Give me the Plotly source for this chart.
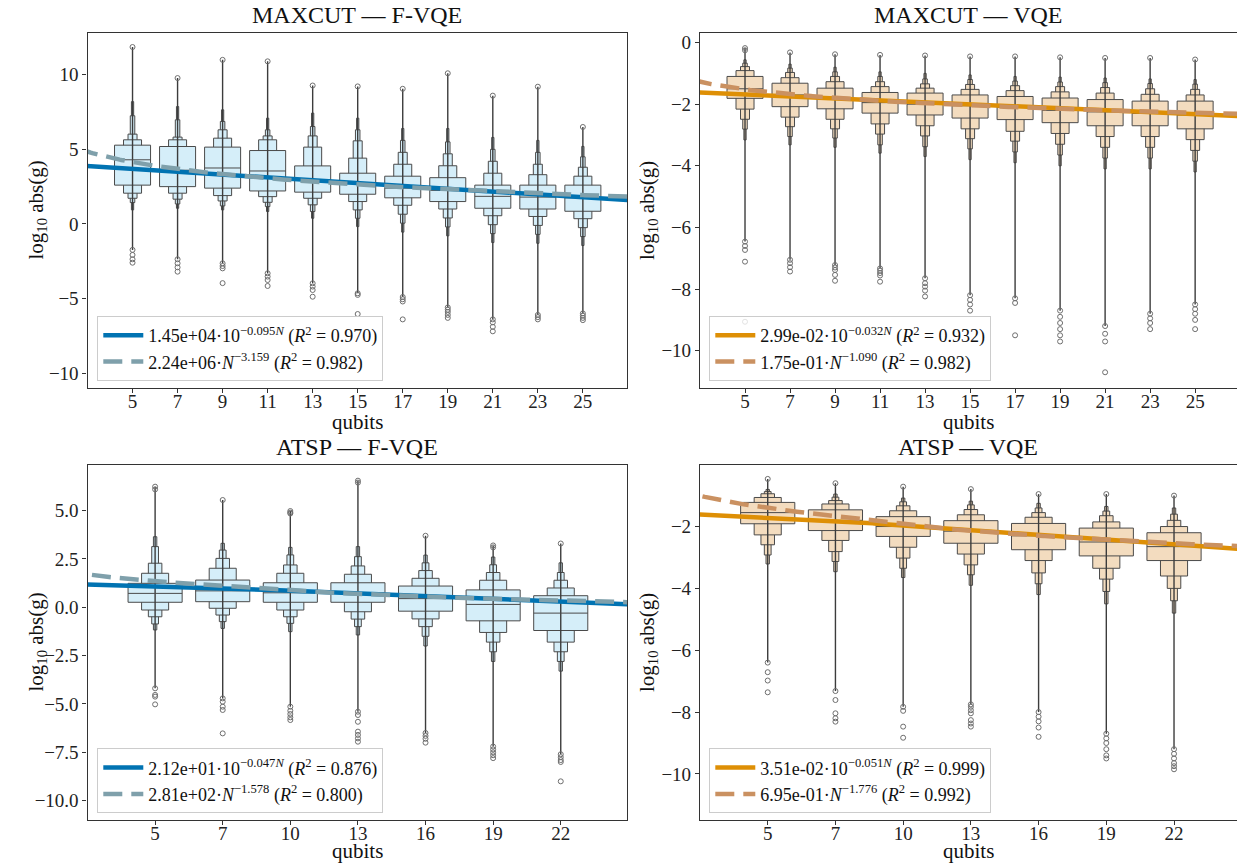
import numpy as np
import plotly.graph_objects as go

# ---------------- MAXCUT, F-VQE ----------------
mf_qubits = [5, 7, 9, 11, 13, 15, 17, 19, 21, 23, 25]
mf_median = [4.30, 3.60, 3.75, 3.55, 2.95, 2.70, 2.40, 2.25, 1.85, 1.80, 1.75]
# letter-value bounds per category, innermost (IQR) level first
mf_lower = [[2.60, 2.06, 1.72, 1.43, 0.94], [2.50, 2.06, 1.66, 1.34, 1.05],
            [2.40, 1.90, 1.54, 1.21, 0.94], [2.21, 1.83, 1.45, 1.16, 0.83],
            [2.13, 1.72, 1.28, 0.83, 0.38], [1.99, 1.50, 0.94, 0.38, -0.18],
            [1.75, 1.25, 0.65, 0.05, -0.55], [1.50, 1.00, 0.40, -0.20, -0.80],
            [1.05, 0.55, -0.05, -0.65, -1.25], [1.00, 0.50, -0.10, -0.70, -1.30],
            [0.85, 0.35, -0.25, -0.85, -1.45]]
mf_upper = [[5.28, 5.64, 6.02, 7.25, 8.20], [5.19, 5.64, 5.82, 6.98, 7.87],
            [5.15, 5.75, 6.31, 6.87, 7.65], [4.92, 5.64, 5.90, 6.31, 7.09],
            [3.89, 5.15, 5.90, 6.53, 7.43], [3.40, 4.41, 5.57, 6.31, 7.09],
            [3.20, 4.00, 4.80, 5.60, 6.40], [3.10, 3.90, 4.70, 5.50, 6.40],
            [2.60, 3.40, 4.20, 5.00, 5.80], [2.60, 3.30, 4.00, 4.80, 5.60],
            [2.60, 3.20, 3.80, 4.50, 5.20]]
mf_tail_lo = [-1.74, -2.37, -2.64, -3.31, -3.98, -4.65, -4.90, -5.60, -6.40, -6.10, -6.00]
mf_tail_hi = [11.86, 9.78, 11.00, 10.90, 9.28, 9.22, 9.06, 10.10, 8.60, 9.20, 6.50]
mf_outliers = [[11.86, -1.74, -2.08, -2.37, -2.60], [9.78, -2.37, -2.64, -2.91, -3.20],
               [11.00, -2.64, -2.82, -2.98, -3.97], [10.90, -3.31, -3.53, -3.76, -4.16],
               [9.28, -3.98, -4.20, -4.43, -4.88], [9.22, -4.65, -4.76, -6.04],
               [9.06, -4.90, -5.05, -5.20, -6.40], [10.10, -5.60, -5.75, -5.90, -6.10, -6.30],
               [8.60, -6.40, -6.60, -6.90, -7.20], [9.20, -6.10, -6.25, -6.40],
               [6.50, -6.00, -6.15, -6.30, -6.45]]
mf_exp_fit = (1.45e4, -0.095, 0.970)
mf_pow_fit = (2.24e6, -3.159, 0.982)

# ---------------- MAXCUT, VQE ----------------
mv_qubits = [5, 7, 9, 11, 13, 15, 17, 19, 21, 23, 25]
mv_median = [-1.50, -1.70, -1.80, -1.95, -2.00, -2.05, -2.10, -2.20, -2.25, -2.30, -2.35]
mv_lower = [[-1.81, -2.16, -2.49, -2.81, -3.16], [-2.08, -2.42, -2.73, -3.05, -3.32],
            [-2.15, -2.49, -2.80, -3.10, -3.40], [-2.29, -2.64, -2.97, -3.32, -3.59],
            [-2.35, -2.70, -3.03, -3.38, -3.70], [-2.45, -2.80, -3.12, -3.45, -3.80],
            [-2.50, -2.88, -3.20, -3.55, -3.90], [-2.60, -2.95, -3.30, -3.65, -4.00],
            [-2.70, -3.05, -3.40, -3.75, -4.10], [-2.70, -3.05, -3.40, -3.75, -4.10],
            [-2.80, -3.15, -3.50, -3.85, -4.20]]
mv_upper = [[-1.10, -0.91, -0.78, -0.67, -0.56], [-1.32, -1.14, -0.97, -0.83, -0.70],
            [-1.48, -1.27, -1.10, -0.95, -0.80], [-1.62, -1.43, -1.27, -1.10, -0.95],
            [-1.64, -1.48, -1.34, -1.18, -1.00], [-1.70, -1.52, -1.36, -1.20, -1.05],
            [-1.75, -1.56, -1.40, -1.25, -1.10], [-1.80, -1.60, -1.43, -1.28, -1.12],
            [-1.85, -1.64, -1.46, -1.30, -1.15], [-1.90, -1.68, -1.50, -1.33, -1.18],
            [-1.90, -1.70, -1.52, -1.35, -1.20]]
mv_tail_lo = [-6.46, -7.05, -7.22, -7.33, -7.65, -8.20, -8.30, -8.70, -9.20, -8.80, -8.50]
mv_tail_hi = [-0.18, -0.32, -0.38, -0.40, -0.42, -0.45, -0.45, -0.48, -0.50, -0.50, -0.55]
mv_outliers = [[-0.18, -0.25, -6.46, -6.60, -6.73, -7.11, -9.06],
               [-0.32, -7.05, -7.16, -7.29, -7.43],
               [-0.38, -7.22, -7.30, -7.38, -7.54, -7.73],
               [-0.40, -7.33, -7.40, -7.48, -7.56, -7.76],
               [-0.42, -7.65, -7.81, -7.92, -8.05, -8.24],
               [-0.45, -8.20, -8.35, -8.50, -8.70],
               [-0.45, -8.30, -8.45, -9.50],
               [-0.48, -8.70, -8.90, -9.10, -9.30, -9.50, -9.70],
               [-0.50, -9.20, -9.45, -9.70, -10.70],
               [-0.50, -8.80, -8.95, -9.10, -9.30],
               [-0.55, -8.50, -8.65, -8.80, -9.00, -9.30]]
mv_exp_fit = (2.99e-2, -0.032, 0.932)
mv_pow_fit = (1.75e-1, -1.090, 0.982)

# ---------------- ATSP, F-VQE ----------------
af_qubits = [5, 7, 10, 13, 16, 19, 22]
af_median = [0.72, 0.85, 0.75, 0.75, 0.45, 0.15, -0.30]
af_lower = [[0.26, -0.14, -0.49, -0.86, -1.17], [0.29, -0.05, -0.40, -0.74, -1.09],
            [0.26, -0.14, -0.49, -0.83, -1.26], [0.26, -0.23, -0.61, -1.00, -1.43],
            [-0.20, -0.60, -1.00, -1.50, -2.00], [-0.70, -1.30, -1.80, -2.30, -2.80],
            [-1.20, -1.80, -2.30, -2.80, -3.30]]
af_upper = [[1.24, 1.76, 2.28, 3.14, 3.65], [1.41, 2.02, 2.53, 2.96, 3.31],
            [1.27, 1.76, 2.19, 2.71, 3.10], [1.27, 1.71, 2.14, 2.62, 3.14],
            [1.10, 1.50, 1.90, 2.30, 2.70], [0.90, 1.40, 1.80, 2.20, 2.60],
            [0.60, 1.00, 1.40, 1.80, 2.30]]
af_tail_lo = [-4.19, -4.71, -5.14, -5.40, -6.50, -7.20, -7.60]
af_tail_hi = [6.24, 5.55, 4.98, 6.55, 3.70, 3.20, 3.30]
af_outliers = [[6.24, 6.10, -4.19, -4.53, -4.62, -5.02],
               [5.55, -4.71, -4.88, -5.14, -5.31, -6.52],
               [4.98, 4.90, 4.85, -5.14, -5.35, -5.52, -5.69, -5.83],
               [6.55, 6.45, -5.40, -5.57, -5.92, -6.43, -6.60, -6.78, -6.95],
               [3.70, -6.50, -6.65, -6.80, -7.00],
               [3.20, 3.10, -7.20, -7.35, -7.50, -7.65, -7.80],
               [3.30, -7.60, -7.75, -7.90, -8.00, -9.00]]
af_exp_fit = (2.12e1, -0.047, 0.876)
af_pow_fit = (2.81e2, -1.578, 0.800)

# ---------------- ATSP, VQE ----------------
av_qubits = [5, 7, 10, 13, 16, 19, 22]
av_median = [-1.55, -1.80, -2.00, -2.15, -2.30, -2.50, -2.65]
av_lower = [[-1.91, -2.27, -2.59, -2.92, -3.21], [-2.13, -2.45, -2.81, -3.13, -3.46],
            [-2.32, -2.67, -3.02, -3.35, -3.65], [-2.54, -2.89, -3.24, -3.56, -3.90],
            [-2.75, -3.10, -3.50, -3.85, -4.20], [-2.95, -3.35, -3.70, -4.10, -4.50],
            [-3.10, -3.60, -4.00, -4.40, -4.80]]
av_upper = [[-1.22, -1.06, -0.94, -0.87, -0.80], [-1.46, -1.27, -1.16, -1.05, -0.95],
            [-1.68, -1.49, -1.33, -1.20, -1.08], [-1.81, -1.62, -1.45, -1.30, -1.18],
            [-1.90, -1.70, -1.55, -1.40, -1.25], [-2.05, -1.85, -1.65, -1.50, -1.35],
            [-2.20, -2.00, -1.80, -1.60, -1.40]]
av_tail_lo = [-6.40, -7.32, -7.83, -7.75, -8.00, -8.70, -9.20]
av_tail_hi = [-0.46, -0.60, -0.71, -0.79, -0.95, -0.95, -1.00]
av_outliers = [[-0.46, -6.40, -6.71, -6.98, -7.36],
               [-0.60, -7.32, -7.61, -8.04, -8.20, -8.31],
               [-0.71, -7.83, -7.96, -8.47, -8.83],
               [-0.79, -7.75, -7.83, -7.94, -8.04, -8.26, -8.37, -8.47],
               [-0.95, -8.00, -8.15, -8.30, -8.50, -8.80],
               [-0.95, -8.70, -8.85, -9.00, -9.20, -9.40, -9.50],
               [-1.00, -9.20, -9.35, -9.50, -9.65, -9.75, -9.85]]
av_exp_fit = (3.51e-2, -0.051, 0.999)
av_pow_fit = (6.95e-1, -1.776, 0.992)

# ---------------- styling ----------------
FONT = "Liberation Serif"
FILL_FVQE = "#d5eef9"
FILL_VQE = "#f3dcbf"
EDGE = "#4a4a4a"
TAIL = "#3c3c3c"
OUTLIER = "#6e6e6e"
FIT_COLORS = {"F-VQE": ("#0173b2", "#7fa0ab"), "VQE": ("#de8f05", "#ca9161")}
BOX_WIDTH = 0.8

W, H = 1237, 865
LEFT_X = [87.5 / W, 627 / W]
RIGHT_X = [700 / W, 1.0]
TOP_Y = [1 - 388 / H, 1 - 33 / H]
BOT_Y = [1 - 820 / H, 1 - 465 / H]
YLABEL_X = {"left": 36 / W, "right": 647.5 / W}
XLABEL_SHIFT = {"top": -21, "bottom": -18}

panels = [
    dict(title="MAXCUT — F-VQE", method="F-VQE", ax="", legend="legend", side="left",
         row="top", qubits=mf_qubits, median=mf_median, lower=mf_lower, upper=mf_upper,
         tail_lo=mf_tail_lo, tail_hi=mf_tail_hi, outliers=mf_outliers,
         exp_fit=mf_exp_fit, pow_fit=mf_pow_fit,
         xdom=LEFT_X, ydom=TOP_Y, xr=[-1.0, 10.98], yr=[-11.0, 12.8],
         yticks=[-10, -5, 0, 5, 10], yfmt="d", leg=(97.3, 316)),
    dict(title="MAXCUT — VQE", method="VQE", ax="2", legend="legend2", side="right",
         row="top", qubits=mv_qubits, median=mv_median, lower=mv_lower, upper=mv_upper,
         tail_lo=mv_tail_lo, tail_hi=mv_tail_hi, outliers=mv_outliers,
         exp_fit=mv_exp_fit, pow_fit=mv_pow_fit,
         xdom=RIGHT_X, ydom=TOP_Y, xr=[-1.0, 10.93], yr=[-11.21, 0.31],
         yticks=[-10, -8, -6, -4, -2, 0], yfmt="d", leg=(709.3, 316)),
    dict(title="ATSP — F-VQE", method="F-VQE", ax="3", legend="legend3", side="left",
         row="bottom", qubits=af_qubits, median=af_median, lower=af_lower, upper=af_upper,
         tail_lo=af_tail_lo, tail_hi=af_tail_hi, outliers=af_outliers,
         exp_fit=af_exp_fit, pow_fit=af_pow_fit,
         xdom=LEFT_X, ydom=BOT_Y, xr=[-1.0, 6.98], yr=[-11.0, 7.36],
         yticks=[-10, -7.5, -5, -2.5, 0, 2.5, 5], yfmt=".1f", leg=(97.3, 748.3)),
    dict(title="ATSP — VQE", method="VQE", ax="4", legend="legend4", side="right",
         row="bottom", qubits=av_qubits, median=av_median, lower=av_lower, upper=av_upper,
         tail_lo=av_tail_lo, tail_hi=av_tail_hi, outliers=av_outliers,
         exp_fit=av_exp_fit, pow_fit=av_pow_fit,
         xdom=RIGHT_X, ydom=BOT_Y, xr=[-1.0, 6.93], yr=[-11.49, -0.01],
         yticks=[-10, -8, -6, -4, -2], yfmt="d", leg=(709.3, 748.3)),
]


def qubits_to_pos(n, qubits):
    """Map a qubit count onto the categorical axis, extending the end spacing."""
    q = np.asarray(qubits, dtype=float)
    idx = np.arange(len(q), dtype=float)
    n = np.asarray(n, dtype=float)
    pos = np.interp(n, q, idx)
    lo_step = q[1] - q[0]
    hi_step = q[-1] - q[-2]
    pos = np.where(n < q[0], (n - q[0]) / lo_step, pos)
    pos = np.where(n > q[-1], idx[-1] + (n - q[-1]) / hi_step, pos)
    return pos


def minus(s):
    return s.replace("-", "\u2212")


fig = go.Figure()
layout_axes = {}
label_font = dict(family=FONT, size=21, color="#111111")

for p in panels:
    xa, ya = "x" + p["ax"], "y" + p["ax"]
    fill = FILL_FVQE if p["method"] == "F-VQE" else FILL_VQE
    n = len(p["qubits"])
    pos = np.arange(n)
    lower = np.array(p["lower"])
    upper = np.array(p["upper"])

    # thin tails joining the extreme letter values
    tx, ty = [], []
    for i in range(n):
        tx += [pos[i], pos[i], None]
        ty += [p["tail_lo"][i], p["tail_hi"][i], None]
    fig.add_trace(go.Scatter(x=tx, y=ty, mode="lines", xaxis=xa, yaxis=ya,
                             line=dict(color=TAIL, width=1.4), showlegend=False,
                             hoverinfo="skip"))

    # letter-value boxes, narrowest drawn first so wider ones sit on top
    n_levels = lower.shape[1]
    for k in reversed(range(n_levels)):
        w = BOX_WIDTH * 0.5 ** k
        fig.add_trace(go.Bar(x=pos, base=lower[:, k], y=upper[:, k] - lower[:, k],
                             width=[w] * n, xaxis=xa, yaxis=ya,
                             marker=dict(color=fill, line=dict(color=EDGE, width=1)),
                             showlegend=False, hoverinfo="skip"))

    # medians
    mx, my = [], []
    for i in range(n):
        mx += [pos[i] - BOX_WIDTH / 2, pos[i] + BOX_WIDTH / 2, None]
        my += [p["median"][i], p["median"][i], None]
    fig.add_trace(go.Scatter(x=mx, y=my, mode="lines", xaxis=xa, yaxis=ya,
                             line=dict(color=EDGE, width=1), showlegend=False,
                             hoverinfo="skip"))

    # outliers
    ox, oy = [], []
    for i in range(n):
        ox += [pos[i]] * len(p["outliers"][i])
        oy += p["outliers"][i]
    fig.add_trace(go.Scatter(x=ox, y=oy, mode="markers", xaxis=xa, yaxis=ya,
                             marker=dict(symbol="circle-open", size=5, color=OUTLIER,
                                         line=dict(width=1, color=OUTLIER)),
                             showlegend=False, hoverinfo="skip"))

    # fitted scaling laws (in log10 space)
    nn = np.linspace(1.5, 30, 400)
    xx = qubits_to_pos(nn, p["qubits"])
    a, b, r2 = p["exp_fit"]
    y_exp = np.log10(a) + b * nn
    lab_exp = (f"{a:.2e}\u00b710<sup>{minus(f'{b:.3f}')}<i>N</i></sup> "
               f"(<i>R</i><sup>2</sup> = {r2:.3f})")
    c_solid, c_dash = FIT_COLORS[p["method"]]
    fig.add_trace(go.Scatter(x=xx, y=y_exp, mode="lines", xaxis=xa, yaxis=ya,
                             line=dict(color=c_solid, width=4.5), name=lab_exp,
                             legend=p["legend"], hoverinfo="skip"))
    a, e, r2 = p["pow_fit"]
    y_pow = np.log10(a) + e * np.log10(nn)
    lab_pow = (f"{a:.2e}\u00b7<i>N</i><sup>{minus(f'{e:.3f}')}</sup> "
               f"(<i>R</i><sup>2</sup> = {r2:.3f})")
    fig.add_trace(go.Scatter(x=xx, y=y_pow, mode="lines", xaxis=xa, yaxis=ya,
                             line=dict(color=c_dash, width=4.5, dash="19px,9px"),
                             name=lab_pow, legend=p["legend"], hoverinfo="skip"))

    axis_common = dict(showline=True, linecolor="#333333", linewidth=1.2, mirror=True,
                       ticks="outside", ticklen=4, tickcolor="#333333", showgrid=False,
                       zeroline=False, tickfont=dict(family=FONT, size=19, color="#222222"))
    xkey = "xaxis" + p["ax"]
    ykey = "yaxis" + p["ax"]
    layout_axes[xkey] = dict(axis_common, domain=p["xdom"], range=p["xr"], anchor=ya,
                             tickvals=list(pos), ticktext=[str(q) for q in p["qubits"]],
                             ticklabelstandoff=-8)
    layout_axes[ykey] = dict(axis_common, domain=p["ydom"], range=p["yr"], anchor=xa,
                             tickvals=p["yticks"], tickformat=p["yfmt"])
    layout_axes[p["legend"]] = dict(
        x=p["leg"][0] / W, y=1 - p["leg"][1] / H, xanchor="left", yanchor="top",
        bgcolor="rgba(255,255,255,0.8)", bordercolor="#cccccc", borderwidth=1,
        font=dict(family=FONT, size=18, color="#111111"), itemwidth=40,
        tracegroupgap=0)

    xmid = (p["xdom"][0] + p["xdom"][1]) / 2
    # panel title
    fig.add_annotation(text=p["title"], xref="paper", yref="paper",
                       x=xmid, y=p["ydom"][1], xanchor="center", yanchor="bottom",
                       yshift=3, showarrow=False,
                       font=dict(family=FONT, size=24, color="#111111"))
    # axis titles
    fig.add_annotation(text="qubits", xref="paper", yref="paper",
                       x=xmid, y=p["ydom"][0], xanchor="center", yanchor="top",
                       yshift=XLABEL_SHIFT[p["row"]], borderpad=0, showarrow=False,
                       font=label_font)
    fig.add_annotation(text="log<sub>10</sub> abs(g)", xref="paper", yref="paper",
                       x=YLABEL_X[p["side"]], y=(p["ydom"][0] + p["ydom"][1]) / 2,
                       xanchor="center", yanchor="middle", textangle=-90,
                       showarrow=False, font=label_font)

fig.update_layout(
    width=W, height=H, margin=dict(l=0, r=0, t=0, b=0),
    paper_bgcolor="white", plot_bgcolor="white", barmode="overlay",
    font=dict(family=FONT, color="#111111"),
    **layout_axes,
)

fig.write_html("out.html")
